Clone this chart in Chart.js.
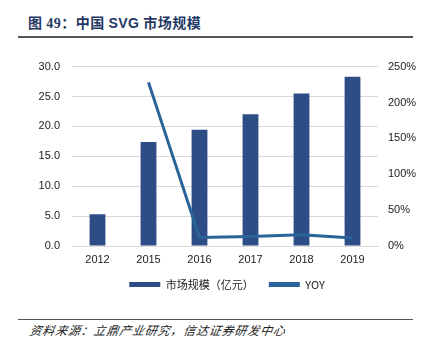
<!DOCTYPE html>
<html><head><meta charset="utf-8">
<script src="https://cdn.jsdelivr.net/npm/chart.js@4"></script>
<style>
html,body{margin:0;padding:0;background:#fff;width:426px;height:349px;overflow:hidden;position:relative;}
#title{position:absolute;left:28px;top:12px;font-family:"Noto Sans CJK SC","Liberation Serif",serif;font-weight:bold;font-size:14px;color:#1f3864;white-space:nowrap;letter-spacing:0.5px;}
#title .num{font-family:"Liberation Serif",serif;}
#title .sans{font-family:"Liberation Sans",sans-serif;}
.rule{position:absolute;left:18px;width:395px;height:1px;background:#555;}
#src{position:absolute;left:30px;top:321px;font-family:"Noto Sans CJK SC",sans-serif;font-style:italic;font-size:12px;letter-spacing:0.8px;color:#222;white-space:nowrap;transform:skewX(-10deg);}
#wrap{position:absolute;left:14px;top:48px;width:426px;height:252px;}
</style></head>
<body>
<div id="title">图 <span class="num">49</span>：中国 <span class="sans">SVG</span> 市场规模</div>
<div class="rule" style="top:36px;height:1.5px;"></div>
<div id="wrap"><canvas id="c" width="426" height="252"></canvas></div>
<div class="rule" style="top:319px;"></div>
<div id="src">资料来源：立鼎产业研究，信达证券研发中心</div>
<script>
const categories = ['2012','2015','2016','2017','2018','2019'];
const marketSize = [5.3, 17.4, 19.45, 22.05, 25.5, 28.3];
const yoy = [null, 228, 11.8, 13.4, 15.6, 11.0];
const seriesNames = ['市场规模（亿元）', 'YOY'];

const tickFont = {family: '"Liberation Sans", Arial, sans-serif', size: 11};
new Chart(document.getElementById('c'), {
  data: {
    labels: categories,
    datasets: [
      {type:'line', label: seriesNames[1], data: yoy, yAxisID:'y1', borderColor:'#2a6399', backgroundColor:'#2a6399', borderWidth:3, pointRadius:0, tension:0, order:0},
      {type:'bar', label: seriesNames[0], data: marketSize, yAxisID:'y', backgroundColor:'#2c4d86', borderWidth:0, barPercentage:0.62, categoryPercentage:0.5, order:1}
    ]
  },
  options: {
    responsive:false, animation:false,
    layout:{padding:{top:18,left:0,right:0,bottom:0}},
    plugins:{
      tooltip:{enabled:false},
      legend:{position:'bottom', reverse:true,
        labels:{boxWidth:31, boxHeight:5, padding:15, color:'#222', font:{family:'"Noto Sans CJK SC", "Liberation Sans", sans-serif', size:11},
          generateLabels(chart){
            const items = Chart.defaults.plugins.legend.labels.generateLabels(chart);
            items.forEach(it=>{ it.lineWidth=0; it.strokeStyle='transparent'; });
            return items;
          }}
      }
    },
    scales:{
      x:{grid:{display:false, drawTicks:false}, border:{display:true,color:'#d9d9d9'}, ticks:{color:'#222', font:tickFont, padding:7},
        afterFit(s){ s.height = 18; }},
      y:{position:'left', min:0, max:30, ticks:{stepSize:5, color:'#222', font:tickFont, padding:12, callback:v=>v.toFixed(1)},
        grid:{color:'#d9d9d9', drawTicks:false}, border:{display:false},
        afterFit(s){ s.width = 58; }},
      y1:{position:'right', min:0, max:250, ticks:{stepSize:50, color:'#222', font:tickFont, padding:10, callback:v=>v+'%'},
        grid:{display:false, drawTicks:false}, border:{display:false},
        afterFit(s){ s.width = 62; }}
    }
  }
});
</script>
</body></html>
